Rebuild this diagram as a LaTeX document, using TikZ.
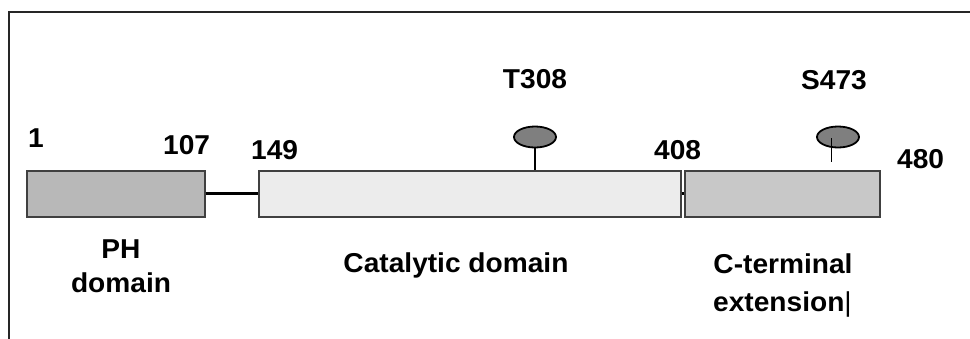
\documentclass[tikz,border=0pt]{standalone}
\usepackage{fontspec}
\setmainfont{Liberation Sans}[FakeStretch=1.03]
\usetikzlibrary{shapes.geometric}
\definecolor{phgray}{HTML}{B8B8B8}
\definecolor{catgray}{HTML}{ECECEC}
\definecolor{ctgray}{HTML}{C8C8C8}
\definecolor{knob}{HTML}{7F7F7F}
\definecolor{edge}{HTML}{404040}
\tikzset{
  domainbox/.style={draw=edge, line width=1.5pt, rectangle, inner sep=0pt, anchor=north west},
  lbl/.style={inner sep=0pt, font=\fontsize{27.3}{31}\selectfont\bfseries},
  knobshape/.style={ellipse, draw=black, line width=1.8pt, fill=knob, inner sep=0pt, minimum width=42pt, minimum height=21pt},
}
\begin{document}
\begin{tikzpicture}[x=1pt,y=-1pt]
\useasboundingbox (0,0) rectangle (970,338);
\fill[white] (0,0) rectangle (970,338);
\draw[line width=2pt, color=black!85] (9,340) -- (9,12) -- (972,12);
% domain boxes
\node[domainbox, fill=phgray, minimum width=178pt, minimum height=46pt] (ph) at (26,170) {};
\node[domainbox, fill=catgray, minimum width=422pt, minimum height=46pt] (cat) at (258,170) {};
\node[domainbox, fill=ctgray, minimum width=195pt, minimum height=46pt] (ct) at (684,170) {};
% linkers
\draw[line width=3pt] (ph.east) -- (cat.west);
\draw[line width=3pt] (cat.east) -- (ct.west);
% phosphorylation sites
\node[knobshape] (t308e) at (535,137) {};
\draw[line width=2.5pt] (t308e.south) -- (t308e.south |- cat.north);
\node[knobshape] (s473e) at (838,137) {};
\coordinate (s473top) at (831,138);
\coordinate (s473bot) at (831,162);
\draw[line width=1pt] (s473top) -- (s473bot);
% residue numbers
\node[lbl, anchor=base west] (n1) at (28,147) {1};
\node[lbl, anchor=base west] (n107) at (163,154) {107};
\node[lbl, anchor=base west] (n149) at (251,159) {149};
\node[lbl, anchor=base west] (n408) at (654,159) {408};
\node[lbl, anchor=base west] (n480) at (897,168) {480};
\node[lbl, anchor=base] (lt308) at (535,88) {T308};
\node[lbl, anchor=base] (ls473) at (834,89) {S473};
% domain names
\node[lbl, anchor=base] (lph1) at (121,258) {PH};
\node[lbl, anchor=base] (lph2) at (121,292) {domain};
\node[lbl, anchor=base] (lcat) at (456,272) {Catalytic domain};
\node[lbl, anchor=base] (lct1) at (783,273) {C-terminal};
\node[lbl, anchor=base west] (lct2) at (713,311) {extension{\fontseries{m}\selectfont|}};
\end{tikzpicture}
\end{document}
